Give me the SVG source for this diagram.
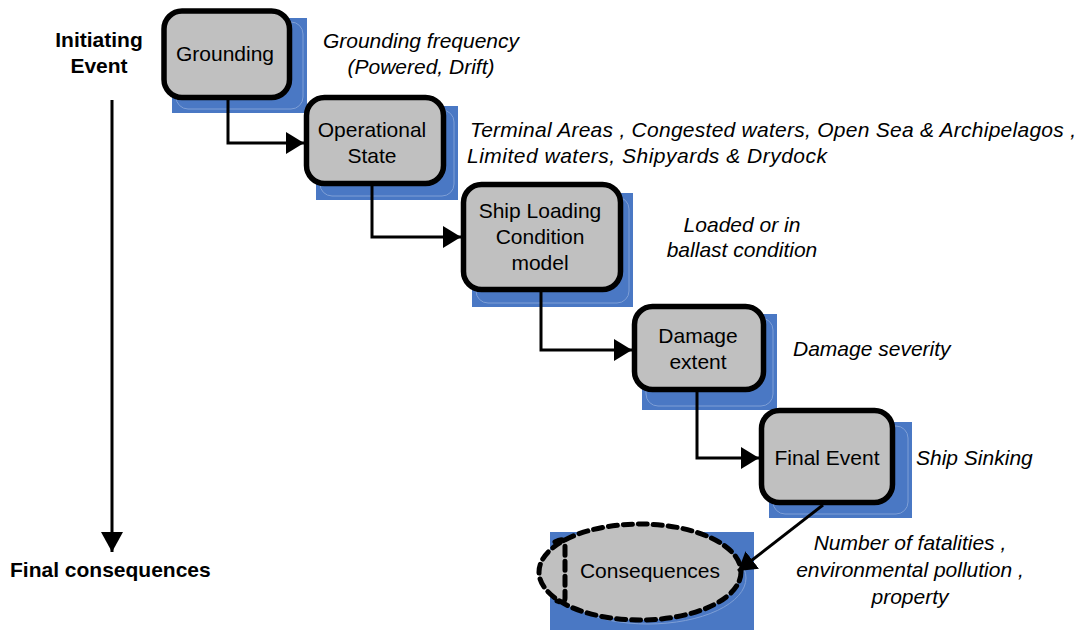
<svg xmlns="http://www.w3.org/2000/svg" width="1085" height="633" viewBox="0 0 1085 633">
  <style>
    .shadow { fill: #4A78C4; }
    .shadow-edge { fill: none; stroke: #7E9FD6; stroke-width: 1; }
    .box { fill: #C0C0C0; stroke: #000; stroke-width: 5.5; }
    .label { font-family: "Liberation Sans", Arial, sans-serif; font-size: 21px; fill: #000; text-anchor: middle; }
    .note { font-family: "Liberation Sans", Arial, sans-serif; font-size: 21px; font-style: italic; fill: #000; }
    .axis { font-family: "Liberation Sans", Arial, sans-serif; font-size: 21px; font-weight: bold; fill: #000; }
    .link { fill: none; stroke: #000; stroke-width: 3; }
  </style>
  <defs>
    <marker id="head" markerUnits="userSpaceOnUse" markerWidth="20" markerHeight="24" refX="18" refY="11" orient="auto">
      <path d="M0,0 L18,11 L0,22 Z" fill="#000"/>
    </marker>
    <marker id="bighead" markerUnits="userSpaceOnUse" markerWidth="22" markerHeight="24" refX="20" refY="11" orient="auto">
      <path d="M0,0 L20,11 L0,22 Z" fill="#000"/>
    </marker>
  </defs>

  <rect width="1085" height="633" fill="#fff"/>

  <!-- time axis -->
  <g id="axis">
    <text class="axis" x="99" y="47" text-anchor="middle">Initiating</text>
    <text class="axis" x="99" y="73" text-anchor="middle">Event</text>
    <line x1="112" y1="100" x2="112" y2="552" stroke="#000" stroke-width="3" marker-end="url(#bighead)"/>
    <text class="axis" x="10" y="577">Final consequences</text>
  </g>

  <!-- event chain boxes -->
  <g id="grounding">
    <rect class="shadow" x="172" y="18" width="135" height="95"/>
    <rect class="shadow-edge" x="176" y="22" width="127" height="87" rx="12"/>
    <rect class="box" x="164" y="11" width="125.5" height="86.5" rx="18"/>
    <text class="label" x="225" y="61">Grounding</text>
  </g>

  <g id="operational-state">
    <rect class="shadow" x="316" y="106" width="142" height="94"/>
    <rect class="shadow-edge" x="320" y="110" width="134" height="86" rx="12"/>
    <rect class="box" x="306.5" y="97.5" width="137" height="86" rx="18"/>
    <text class="label" x="372" y="137">Operational</text>
    <text class="label" x="372" y="163">State</text>
  </g>

  <g id="ship-loading">
    <rect class="shadow" x="472" y="193" width="161" height="114"/>
    <rect class="shadow-edge" x="476" y="197" width="153" height="106" rx="12"/>
    <rect class="box" x="463.5" y="184.5" width="157" height="105" rx="18"/>
    <text class="label" x="540" y="218">Ship Loading</text>
    <text class="label" x="540" y="244">Condition</text>
    <text class="label" x="540" y="270">model</text>
  </g>

  <g id="damage-extent">
    <rect class="shadow" x="642" y="314" width="135" height="96"/>
    <rect class="shadow-edge" x="646" y="318" width="127" height="88" rx="12"/>
    <rect class="box" x="634.5" y="306.5" width="129" height="83" rx="18"/>
    <text class="label" x="698" y="343">Damage</text>
    <text class="label" x="698" y="369">extent</text>
  </g>

  <g id="final-event">
    <rect class="shadow" x="769" y="422" width="143" height="96"/>
    <rect class="shadow-edge" x="773" y="426" width="135" height="88" rx="12"/>
    <rect class="box" x="761.5" y="410.5" width="131" height="92" rx="18"/>
    <text class="label" x="827" y="465">Final Event</text>
  </g>

  <g id="consequences">
    <rect class="shadow" x="550" y="532" width="204" height="98"/>
    <ellipse cx="648" cy="578" rx="98" ry="46" fill="none" stroke="#7E9FD6" stroke-width="1"/>
    <ellipse cx="640" cy="572" rx="101" ry="48" fill="#C0C0C0" stroke="#000" stroke-width="5" stroke-dasharray="9 6" stroke-linecap="round"/>
    <path d="M555,542 Q565,536 565,546 L565,598 Q565,604 557,601" fill="none" stroke="#000" stroke-width="5" stroke-dasharray="9 6" stroke-linecap="round"/>
    <text class="label" x="650" y="578">Consequences</text>
  </g>

  <!-- connectors between stages -->
  <g id="connectors">
    <path class="link" d="M228,100 V143 H304" marker-end="url(#head)"/>
    <path class="link" d="M372,186 V237 H461" marker-end="url(#head)"/>
    <path class="link" d="M541,292 V350 H632" marker-end="url(#head)"/>
    <path class="link" d="M697,392 V458 H759" marker-end="url(#head)"/>
    <path class="link" d="M823,505 L738,571" marker-end="url(#head)"/>
  </g>

  <!-- stage annotations -->
  <g id="notes">
    <text class="note" x="421" y="48" text-anchor="middle">Grounding frequency</text>
    <text class="note" x="421" y="74" text-anchor="middle">(Powered, Drift)</text>
    <text class="note" x="470" y="137" textLength="606" lengthAdjust="spacing">Terminal Areas , Congested waters, Open Sea &amp; Archipelagos ,</text>
    <text class="note" x="467" y="163" textLength="360" lengthAdjust="spacing">Limited waters, Shipyards &amp; Drydock</text>
    <text class="note" x="742" y="232" text-anchor="middle">Loaded or in</text>
    <text class="note" x="742" y="257" text-anchor="middle">ballast condition</text>
    <text class="note" x="793" y="356">Damage severity</text>
    <text class="note" x="916" y="465">Ship Sinking</text>
    <text class="note" x="910" y="550" text-anchor="middle">Number of fatalities ,</text>
    <text class="note" x="910" y="577" text-anchor="middle">environmental pollution ,</text>
    <text class="note" x="910" y="604" text-anchor="middle">property</text>
  </g>
</svg>
